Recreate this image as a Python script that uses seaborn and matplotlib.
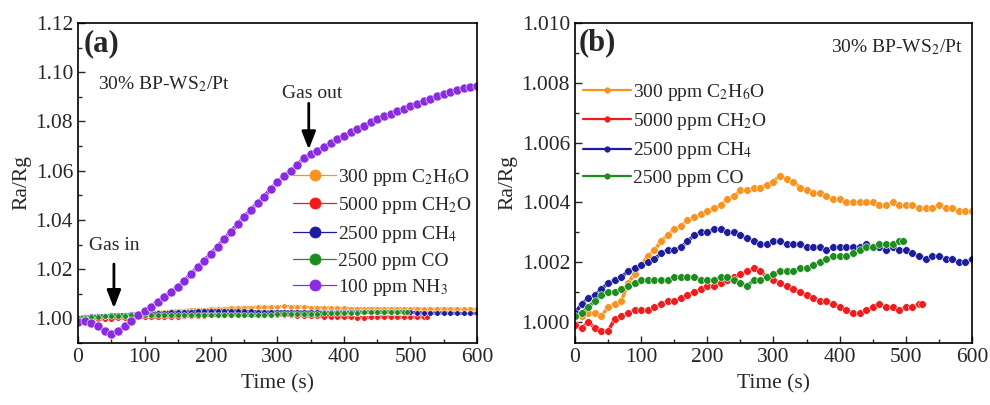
import numpy as np
import pandas as pd
import matplotlib
matplotlib.use("Agg")
import matplotlib.pyplot as plt
import seaborn as sns
from matplotlib.lines import Line2D

# 측정 데이터 (Ra/Rg), 10 s 간격
t_full = list(range(0, 601, 10))
t_ch2o = list(range(0, 521, 10)) + [525]
t_co = list(range(0, 491, 10)) + [495]

c2h6o = [1.0002, 1.0002, 1.0003, 1.0003, 1.0002, 1.0005, 1.0006, 1.0007, 1.0013, 1.0016,
         1.0019, 1.0022, 1.0024, 1.0027, 1.0029, 1.0031, 1.0032, 1.0034, 1.0035, 1.0036,
         1.0037, 1.0038, 1.0039, 1.0041, 1.0042, 1.0044, 1.0044, 1.0045, 1.0045, 1.0046,
         1.0047, 1.0049, 1.0048, 1.0047, 1.0045, 1.0044, 1.0043, 1.0043, 1.0042, 1.0041,
         1.0041, 1.0040, 1.0040, 1.0040, 1.0040, 1.0040, 1.0039, 1.0039, 1.0040, 1.0039,
         1.0039, 1.0039, 1.0038, 1.0038, 1.0038, 1.0039, 1.0038, 1.0038, 1.0037, 1.0037,
         1.0037]
ch2o = [0.9999, 0.9998, 1.0000, 0.9998, 0.9997, 0.9997, 1.0001, 1.0002, 1.0003, 1.0004,
        1.0004, 1.0004, 1.0005, 1.0006, 1.0007, 1.0007, 1.0008, 1.0009, 1.0010, 1.0011,
        1.0012, 1.0012, 1.0013, 1.0014, 1.0015, 1.0016, 1.0017, 1.0018, 1.0017, 1.0015,
        1.0014, 1.0013, 1.0012, 1.0011, 1.0010, 1.0009, 1.0008, 1.0007, 1.0007, 1.0006,
        1.0005, 1.0004, 1.0003, 1.0003, 1.0004, 1.0005, 1.0006, 1.0005, 1.0005, 1.0004,
        1.0005, 1.0005, 1.0006, 1.0006]
ch4 = [1.0003, 1.0006, 1.0008, 1.0009, 1.0011, 1.0013, 1.0014, 1.0015, 1.0017, 1.0018,
       1.0019, 1.0020, 1.0021, 1.0023, 1.0024, 1.0024, 1.0025, 1.0027, 1.0029, 1.0030,
       1.0030, 1.0031, 1.0031, 1.0030, 1.0030, 1.0029, 1.0028, 1.0027, 1.0026, 1.0026,
       1.0027, 1.0027, 1.0026, 1.0026, 1.0026, 1.0025, 1.0025, 1.0025, 1.0024, 1.0025,
       1.0025, 1.0025, 1.0025, 1.0025, 1.0026, 1.0025, 1.0025, 1.0024, 1.0025, 1.0024,
       1.0024, 1.0023, 1.0022, 1.0021, 1.0022, 1.0022, 1.0021, 1.0021, 1.0020, 1.0020,
       1.0021]
co = [1.0002, 1.0003, 1.0005, 1.0007, 1.0009, 1.0010, 1.0010, 1.0011, 1.0012, 1.0013,
      1.0014, 1.0014, 1.0014, 1.0014, 1.0014, 1.0015, 1.0015, 1.0015, 1.0015, 1.0014,
      1.0014, 1.0014, 1.0015, 1.0015, 1.0014, 1.0013, 1.0012, 1.0014, 1.0014, 1.0015,
      1.0016, 1.0017, 1.0017, 1.0017, 1.0018, 1.0018, 1.0019, 1.0020, 1.0021, 1.0022,
      1.0022, 1.0022, 1.0023, 1.0024, 1.0025, 1.0025, 1.0026, 1.0026, 1.0026, 1.0027,
      1.0027]
nh3 = [0.9985, 0.9988, 0.9982, 0.9968, 0.9950, 0.9938, 0.9950, 0.9968, 0.9990, 1.0012,
       1.0030, 1.0048, 1.0068, 1.0088, 1.0108, 1.0128, 1.0153, 1.0180, 1.0207, 1.0235,
       1.0262, 1.0292, 1.0322, 1.0352, 1.0383, 1.0413, 1.0440, 1.0468, 1.0495, 1.0525,
       1.0553, 1.0578, 1.0600, 1.0625, 1.0650, 1.0668, 1.0682, 1.0698, 1.0712, 1.0728,
       1.0743, 1.0756, 1.0770, 1.0783, 1.0796, 1.0810, 1.0822, 1.0832, 1.0842, 1.0852,
       1.0862, 1.0872, 1.0882, 1.0893, 1.0903, 1.0912, 1.0920, 1.0928, 1.0935, 1.0940,
       1.0945]

labels = ['300 ppm C$_2$H$_6$O', '5000 ppm CH$_2$O', '2500 ppm CH$_4$',
          '2500 ppm CO', '100 ppm NH$_3$']
colors = ['#F7931E', '#F21B1B', '#1C1C9C', '#1E8C1E', '#8A2BE2']

series = [(t_full, c2h6o), (t_ch2o, ch2o), (t_full, ch4), (t_co, co), (t_full, nh3)]
frames = []
for lab, (tt, vv) in zip(labels, series):
    frames.append(pd.DataFrame({'t': tt, 'r': vv, 'gas': lab}))
df = pd.concat(frames, ignore_index=True)

sns.set_theme(style='ticks')
plt.rcParams['font.family'] = ['Liberation Serif', 'DejaVu Serif']
plt.rcParams['mathtext.fontset'] = 'stix'
plt.rcParams['xtick.direction'] = 'in'
plt.rcParams['ytick.direction'] = 'in'

fig = plt.figure(figsize=(9.9, 4.05), dpi=100)
ax1 = fig.add_axes([0.0788, 0.1531, 0.403, 0.790])
ax2 = fig.add_axes([0.5808, 0.1531, 0.401, 0.790])
pal = dict(zip(labels, colors))

# (a) 전체 가스
for lab in labels:
    big = lab == labels[4]
    sns.lineplot(data=df[df['gas'] == lab], x='t', y='r', color=pal[lab], marker='o',
                 markersize=6.5 if big else 4, markeredgewidth=0.4, lw=3 if big else 2.2,
                 legend=False, ax=ax1)
ax1.set_xlim(0, 600)
ax1.set_ylim(0.99, 1.12)
ax1.set_yticks(np.arange(1.00, 1.121, 0.02))
ax1.yaxis.set_major_formatter(matplotlib.ticker.FormatStrFormatter('%.2f'))

h1 = [Line2D([], [], color=c, lw=0.9, marker='o', markersize=8, markeredgewidth=0.5)
      for c in colors]
ax1.legend(h1, labels, loc='upper left', bbox_to_anchor=(0.52, 0.575), frameon=False,
           fontsize=14, handlelength=2.2, handletextpad=0.1, labelspacing=0.38,
           borderaxespad=0)

ax1.text(8, 1.1118, '(a)', fontsize=22, fontweight='bold', va='center')
ax1.text(30, 1.0951, '30% BP-WS$_2$/Pt', fontsize=14, va='center')
ax1.text(352, 1.0914, 'Gas out', fontsize=14, va='center', ha='center')
ax1.text(54, 1.0298, 'Gas in', fontsize=14, va='center', ha='center')
arr = dict(arrowstyle='-|>,head_width=0.35,head_length=0.9', color='black', lw=2)
ax1.annotate('', xy=(347, 1.0675), xytext=(347, 1.0885), arrowprops=arr)
ax1.annotate('', xy=(54, 1.0030), xytext=(54, 1.0232), arrowprops=arr)

# (b) NH3 제외 확대
for lab in labels[:4]:
    sns.lineplot(data=df[df['gas'] == lab], x='t', y='r', color=pal[lab], marker='o',
                 markersize=5.5, markeredgewidth=0.4, lw=2.5, legend=False, ax=ax2)
ax2.set_xlim(0, 600)
ax2.set_ylim(0.9993, 1.010)
ax2.set_yticks(np.arange(1.000, 1.0101, 0.002))
ax2.yaxis.set_major_formatter(matplotlib.ticker.FormatStrFormatter('%.3f'))

h2 = [Line2D([], [], color=c, lw=1.6, marker='o', markersize=4, markeredgewidth=0.4)
      for c in colors[:4]]
ax2.legend(h2, labels[:4], loc='upper left', bbox_to_anchor=(0.0, 0.84), frameon=False,
           fontsize=14, handlelength=2.5, handletextpad=0.1, labelspacing=0.42,
           borderaxespad=0)
ax2.text(5, 1.00933, '(b)', fontsize=22, fontweight='bold', va='center')
ax2.text(586, 1.00918, '30% BP-WS$_2$/Pt', fontsize=14, va='center', ha='right')

for ax in (ax1, ax2):
    ax.set_xticks(range(0, 601, 100))
    ax.xaxis.set_minor_locator(matplotlib.ticker.MultipleLocator(50))
    ax.yaxis.set_minor_locator(matplotlib.ticker.AutoMinorLocator(2))
    ax.tick_params(which='both', direction='in', labelsize=15.5, top=False, right=False)
    ax.tick_params(which='major', length=5, width=1)
    ax.tick_params(which='minor', length=3, width=1)
    ax.set_xlabel('Time (s)', fontsize=15.5, labelpad=5)
    ax.set_ylabel('Ra/Rg', fontsize=15.5, labelpad=3)
    for sp in ax.spines.values():
        sp.set_visible(True)
        sp.set_linewidth(1.2)
        sp.set_color('black')

fig.savefig('out.png', dpi=100)
